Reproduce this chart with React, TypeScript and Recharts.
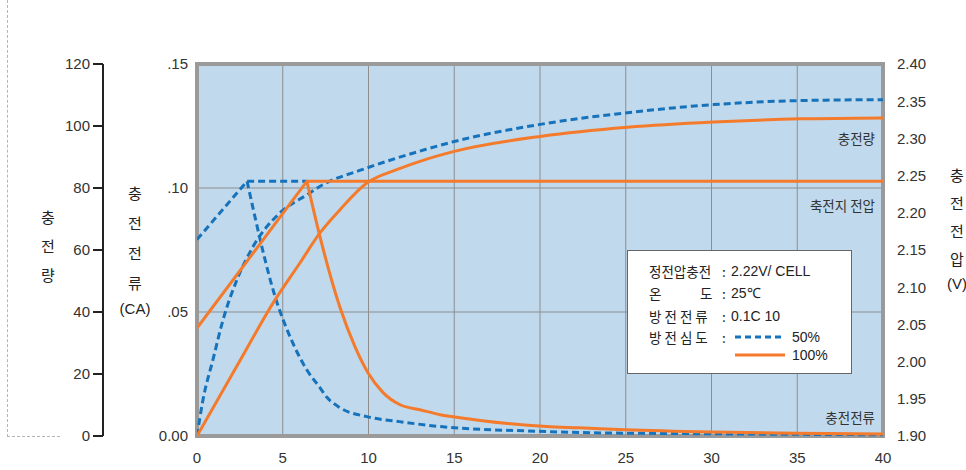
import { LineChart, Line, XAxis, YAxis, CartesianGrid, ReferenceArea } from "recharts";

const hourTicks = [0, 5, 10, 15, 20, 25, 30, 35, 40];
const chargeTicks = [0, 20, 40, 60, 80, 100, 120];
const currentTicks = [0, 0.05, 0.1, 0.15];
const voltTicks = [1.9, 1.95, 2.0, 2.05, 2.1, 2.15, 2.2, 2.25, 2.3, 2.35, 2.4];

// [hours, value] pairs
const volt50: [number, number][] = [[0, 2.164], [2.92, 2.2425], [6.41, 2.2425]];
const volt100: [number, number][] = [[0, 2.045], [6.41, 2.2425], [40, 2.2425]];

const current50: [number, number][] = [
  [2.92, 0.1027], [4.75, 0.052], [5.25, 0.0429], [6.4, 0.0267], [7.17, 0.0195],
  [7.55, 0.0158], [8.34, 0.0114], [9.9, 0.0078], [11.8, 0.0058], [14.2, 0.0038],
  [20.4, 0.0018], [22.3, 0.0014], [30, 0.0009], [40, 0.0005],
];
const current100: [number, number][] = [
  [6.41, 0.1027], [7.17, 0.0804], [8.34, 0.0518], [9.21, 0.036], [9.97, 0.0255],
  [10.85, 0.0175], [11.84, 0.0126], [13.0, 0.0106], [14.17, 0.0086], [14.93, 0.0078],
  [20.4, 0.0038], [22.3, 0.0033], [25, 0.0025], [30, 0.0016], [35, 0.0011], [40, 0.0008],
];

const charge50: [number, number][] = [
  [0, 0], [0.35, 11.7], [0.93, 24.6], [1.52, 37.5], [2.33, 50.4], [3.27, 61.1],
  [4.84, 72.0], [6.41, 77.8], [7.35, 81.1], [9.62, 85.9], [13.3, 92.4], [15.0, 95.0],
  [20.1, 100.6], [25.1, 104.3], [30.1, 106.9], [35.2, 108.2], [40, 108.5],
];
const charge100: [number, number][] = [
  [0, 0], [2.31, 22.4], [4.55, 43.9], [6.0, 55.8], [7.17, 65.5], [8.34, 73.0],
  [9.9, 81.6], [11.64, 85.9], [13.0, 88.6], [15.0, 91.8], [20.1, 96.7],
  [25.1, 99.6], [30.1, 101.3], [35.2, 102.3], [40, 102.6],
];

const BLUE = "#1673bb";
const ORANGE = "#f47a2c";
const NUM_FONT = "'Liberation Sans', Arial, sans-serif";
const KO_FONT = "'Noto Sans CJK KR', 'Noto Sans', sans-serif";

const rows = (pts: [number, number][]) => pts.map(([x, y]) => ({ x, y }));
const fmtCurrent = (v: number) => (v === 0 ? "0.00" : v.toFixed(2).slice(1));

const tickStyle = { fill: "#333", fontSize: 15, fontFamily: NUM_FONT };

function Stack({ chars, left, top, lh }: { chars: string[]; left: number; top: number; lh: number }) {
  return (
    <div style={{ position: "absolute", left, top, width: 40, textAlign: "center", color: "#222" }}>
      {chars.map((c, i) => (
        <div
          key={i}
          style={{
            height: c.startsWith("(") ? 22 : lh,
            lineHeight: (c.startsWith("(") ? 22 : lh) + "px",
            fontSize: 15,
            fontFamily: c.startsWith("(") ? NUM_FONT : KO_FONT,
          }}
        >
          {c}
        </div>
      ))}
    </div>
  );
}

export default function App() {
  return (
    <div style={{ position: "absolute", left: 0, top: 0, width: 966, height: 470, background: "#fff" }}>
      {/* dashed crop mark at the left edge */}
      <div
        style={{
          position: "absolute",
          left: 7,
          top: 0,
          width: 52,
          height: 436,
          borderLeft: "1.5px dashed #b5b5b5",
          borderBottom: "1.5px dashed #b5b5b5",
        }}
      />
      <LineChart width={966} height={470} margin={{ top: 64, right: 0, bottom: 4, left: 43 }}>
        <CartesianGrid yAxisId="c" stroke="#8e8e8e" strokeWidth={1} fill="#c0d9ec" fillOpacity={1} />
        <XAxis
          type="number"
          dataKey="x"
          domain={[0, 40]}
          ticks={hourTicks}
          allowDataOverflow
          axisLine={false}
          tickLine={false}
          tickSize={8}
          tickMargin={8}
          height={30}
          interval={0}
          tick={tickStyle}
        />
        <YAxis
          yAxisId="c"
          orientation="left"
          type="number"
          domain={[0, 0.15]}
          ticks={currentTicks}
          width={94}
          axisLine={false}
          tickLine={false}
          tickSize={6}
          tickMargin={3}
          interval={0}
          tickFormatter={fmtCurrent}
          tick={tickStyle}
        />
        <YAxis
          yAxisId="q"
          orientation="left"
          type="number"
          domain={[0, 120]}
          ticks={chargeTicks}
          width={60}
          axisLine={{ stroke: "#222", strokeWidth: 2 }}
          tickLine={{ stroke: "#222", strokeWidth: 2 }}
          tickSize={10}
          tickMargin={3}
          interval={0}
          tick={tickStyle}
        />
        <YAxis
          yAxisId="v"
          orientation="right"
          type="number"
          domain={[1.9, 2.4]}
          ticks={voltTicks}
          width={83}
          axisLine={false}
          tickLine={false}
          tickSize={10}
          tickMargin={4}
          interval={0}
          tickFormatter={(v: number) => v.toFixed(2)}
          tick={tickStyle}
        />

        <Line yAxisId="v" data={rows(volt50)} dataKey="y" type="linear" stroke={BLUE} strokeWidth={3} strokeDasharray="7 4" dot={false} activeDot={false} isAnimationActive={false} />
        <Line yAxisId="c" data={rows(current50)} dataKey="y" type="monotone" stroke={BLUE} strokeWidth={3} strokeDasharray="7 4" dot={false} activeDot={false} isAnimationActive={false} />
        <Line yAxisId="q" data={rows(charge50)} dataKey="y" type="monotone" stroke={BLUE} strokeWidth={3} strokeDasharray="7 4" dot={false} activeDot={false} isAnimationActive={false} />

        <Line yAxisId="v" data={rows(volt100)} dataKey="y" type="linear" stroke={ORANGE} strokeWidth={3} dot={false} activeDot={false} isAnimationActive={false} />
        <Line yAxisId="c" data={rows(current100)} dataKey="y" type="monotone" stroke={ORANGE} strokeWidth={3} dot={false} activeDot={false} isAnimationActive={false} />
        <Line yAxisId="q" data={rows(charge100)} dataKey="y" type="monotone" stroke={ORANGE} strokeWidth={3} dot={false} activeDot={false} isAnimationActive={false} />

        <ReferenceArea yAxisId="c" x1={0} x2={40} y1={0} y2={0.15} fill="none" stroke="#9a9a9a" strokeWidth={4} ifOverflow="visible" />
      </LineChart>

      {/* axis titles */}
      <Stack chars={["충", "전", "량"]} left={28} top={202} lh={29} />
      <Stack chars={["충", "전", "전", "류", "(CA)"]} left={115} top={178} lh={30} />
      <Stack chars={["충", "전", "전", "압", "(V)"]} left={937} top={161} lh={28} />

      {/* labels inside the plot */}
      {[
        { t: "충전량", y: 138 },
        { t: "축전지 전압", y: 205 },
        { t: "충전전류", y: 417 },
      ].map((l) => (
        <div
          key={l.t}
          style={{
            position: "absolute",
            left: 775,
            width: 100,
            top: l.y - 10,
            lineHeight: "20px",
            textAlign: "right",
            fontSize: 13.5,
            fontFamily: KO_FONT,
            color: "#333",
          }}
        >
          {l.t}
        </div>
      ))}

      {/* condition box */}
      <div
        style={{
          position: "absolute",
          left: 627,
          top: 250,
          width: 223,
          height: 122,
          background: "#fff",
          border: "1px solid #666",
          fontSize: 13.5,
          color: "#222",
          fontFamily: KO_FONT,
        }}
      >
        {[
          { a: "정전압충전", b: "2.22V/ CELL", y: 20 },
          { a: "", b: "25℃", y: 42 },
          { a: "방 전 전 류", b: "0.1C 10", y: 65 },
          { a: "방 전 심 도", b: "", y: 86 },
        ].map((r, i) => (
          <div key={i} style={{ position: "absolute", left: 0, top: r.y - 10, height: 20, lineHeight: "20px", width: 223 }}>
            {i === 1 ? (
              <>
                <span style={{ position: "absolute", left: 21 }}>온</span>
                <span style={{ position: "absolute", left: 72 }}>도</span>
              </>
            ) : (
              <span style={{ position: "absolute", left: 21 }}>{r.a}</span>
            )}
            <span style={{ position: "absolute", left: 94 }}>:</span>
            {r.b && (
              <span style={{ position: "absolute", left: 103, fontFamily: NUM_FONT, fontSize: 14 }}>{r.b}</span>
            )}
          </div>
        ))}
        <svg style={{ position: "absolute", left: 106, top: 80 }} width={52} height={30}>
          <line x1={1} y1={6} x2={51} y2={6} stroke={BLUE} strokeWidth={3} strokeDasharray="6 4" />
          <line x1={1} y1={24} x2={51} y2={24} stroke={ORANGE} strokeWidth={3} />
        </svg>
        <span style={{ position: "absolute", left: 164, top: 76, lineHeight: "20px", fontFamily: NUM_FONT, fontSize: 14 }}>50%</span>
        <span style={{ position: "absolute", left: 164, top: 94, lineHeight: "20px", fontFamily: NUM_FONT, fontSize: 14 }}>100%</span>
      </div>
    </div>
  );
}
